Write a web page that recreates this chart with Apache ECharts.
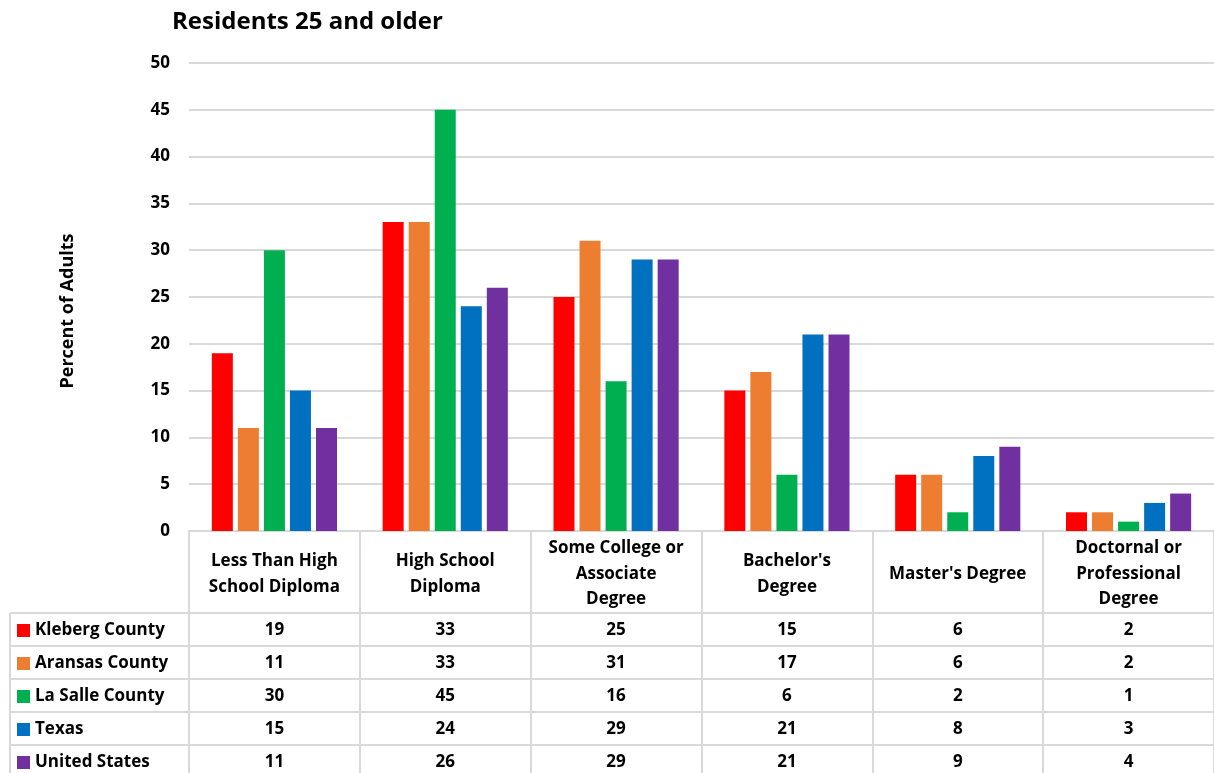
<!DOCTYPE html>
<html>
<head>
<meta charset="utf-8">
<script src="https://cdn.jsdelivr.net/npm/echarts@6/dist/echarts.min.js"></script>
<style>
  html, body { margin: 0; padding: 0; background: #fff; }
  #chart { width: 1214px; height: 773px; }
</style>
</head>
<body>
<div id="chart"></div>
<script>
// Education categories (tick labels, with line breaks as shown in the table header)
const categories = [
  'Less Than High\nSchool Diploma',
  'High School\nDiploma',
  'Some College or\nAssociate\nDegree',
  "Bachelor's\nDegree",
  "Master's Degree",
  'Doctornal or\nProfessional\nDegree'
];

// Percent of adults aged 25+ by highest education level
const seriesNames = ['Kleberg County', 'Aransas County', 'La Salle County', 'Texas', 'United States'];
const kleberg = [19, 33, 25, 15, 6, 2];
const aransas = [11, 33, 31, 17, 6, 2];
const laSalle = [30, 45, 16, 6, 2, 1];
const texas   = [15, 24, 29, 21, 8, 3];
const usa     = [11, 26, 29, 21, 9, 4];
const seriesValues = [kleberg, aransas, laSalle, texas, usa];
const colors = ['#FF0000', '#ED7D31', '#00B050', '#0070C0', '#7030A0'];

const yTicks = { min: 0, max: 50, interval: 5 };

const FONT = '"Open Sans", Lato, sans-serif';
const FS = 17;
const LINE = '#D9D9D9';
const HEADER_H = 82;
const ROW_H = 33;

const chart = echarts.init(document.getElementById('chart'), null, { renderer: 'canvas' });

// Header axis: category names and the column dividers of the data table
const xAxes = [{
  type: 'category',
  data: categories,
  position: 'bottom',
  boundaryGap: true,
  axisLine: { show: true, lineStyle: { color: LINE, width: 2 } },
  axisTick: { show: true, length: HEADER_H, lineStyle: { color: LINE, width: 2 } },
  axisLabel: {
    interval: 0, margin: HEADER_H / 2 + 2, verticalAlign: 'middle',
    fontFamily: FONT, fontWeight: 'bold', fontSize: FS, color: '#000', lineHeight: 25.5
  }
}];

// One axis per table row, each showing that series' values under its category
seriesValues.forEach((vals, i) => {
  xAxes.push({
    type: 'category',
    data: categories,
    position: 'bottom',
    offset: HEADER_H + ROW_H * i,
    boundaryGap: true,
    axisLine: { show: true, lineStyle: { color: LINE, width: 2 } },
    axisTick: { show: true, length: ROW_H, lineStyle: { color: LINE, width: 2 } },
    axisLabel: {
      interval: 0, margin: ROW_H / 2 + 1, verticalAlign: 'middle',
      fontFamily: FONT, fontWeight: 'bold', fontSize: FS, color: '#000',
      formatter: (v, idx) => String(vals[idx])
    }
  });
});

// Borders of the row-label column on the left of the table
const tableLeft = 10, tableTop = 531 + HEADER_H, gridLeft = 189;
const borderLines = [];
for (let i = 0; i <= seriesValues.length; i++) {
  borderLines.push({
    type: 'line', silent: true,
    shape: { x1: tableLeft, y1: tableTop + ROW_H * i, x2: gridLeft, y2: tableTop + ROW_H * i },
    style: { stroke: LINE, lineWidth: 2 }
  });
}
borderLines.push({
  type: 'line', silent: true,
  shape: { x1: tableLeft, y1: tableTop, x2: tableLeft, y2: 773 },
  style: { stroke: LINE, lineWidth: 2 }
});

chart.setOption({
  animation: false,
  color: colors,
  title: {
    text: 'Residents 25 and older',
    left: 172, top: 10, padding: 0,
    textStyle: { fontFamily: FONT, fontWeight: 'bold', fontSize: 24, color: '#000' }
  },
  legend: {
    orient: 'vertical',
    left: 17, top: tableTop + 8, bottom: -100,
    padding: 0,
    itemWidth: 13, itemHeight: 13, itemGap: 14,
    icon: 'rect',
    data: seriesNames,
    textStyle: { fontFamily: FONT, fontWeight: 'bold', fontSize: FS, color: '#000', lineHeight: 19 }
  },
  grid: { left: gridLeft, right: -3, top: 63, bottom: 773 - 531 },
  xAxis: xAxes,
  yAxis: {
    type: 'value',
    min: yTicks.min, max: yTicks.max, interval: yTicks.interval,
    name: 'Percent of Adults',
    nameLocation: 'middle', nameRotate: 90, nameGap: 112,
    nameTextStyle: {
      fontFamily: FONT, fontWeight: 'bold', fontSize: 18, color: '#000',
      padding: [0, 28, 0, 0]
    },
    axisLine: { show: false },
    axisTick: { show: false },
    axisLabel: { margin: 19, fontFamily: FONT, fontWeight: 'bold', fontSize: FS, color: '#000' },
    splitLine: { lineStyle: { color: LINE, width: 2 } }
  },
  series: seriesValues.map((vals, i) => ({
    name: seriesNames[i],
    type: 'bar',
    xAxisIndex: 0,
    data: vals,
    barWidth: 21,
    barGap: '24%',
    itemStyle: { color: colors[i] }
  })),
  graphic: borderLines
});
</script>
</body>
</html>
